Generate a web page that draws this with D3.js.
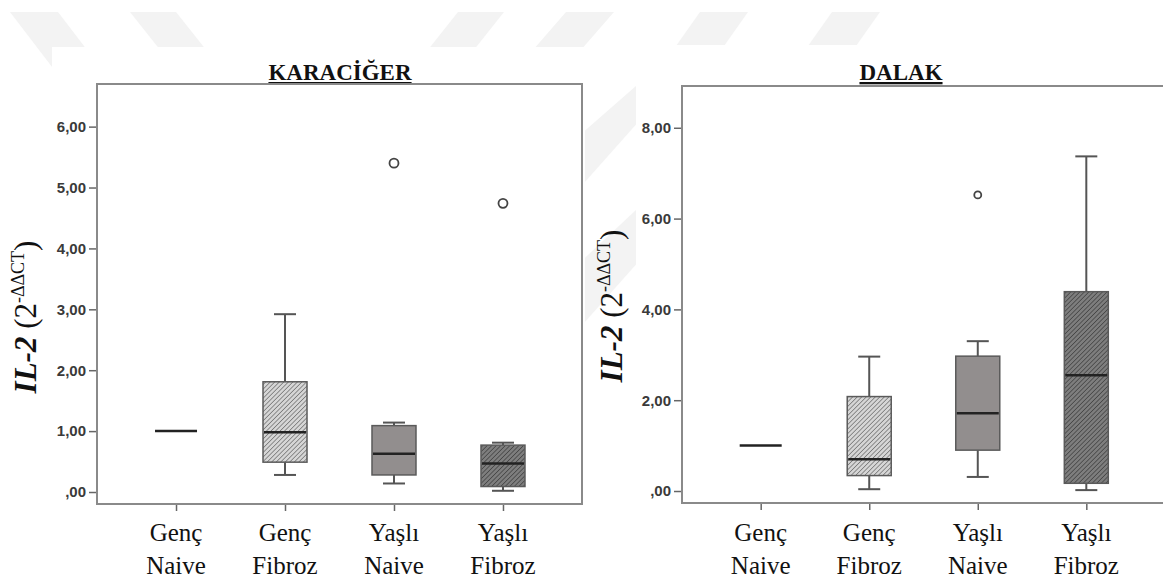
<!DOCTYPE html>
<html>
<head>
<meta charset="utf-8">
<script src="https://cdn.jsdelivr.net/npm/d3@7"></script>
<style>
  html, body { margin: 0; padding: 0; background: #fff; }
  svg { display: block; }
</style>
</head>
<body>
<div id="chart"></div>
<script>
const width = 1163;
const height = 582;

// gruplar
const groups = ["Genç Naive", "Genç Fibroz", "Yaşlı Naive", "Yaşlı Fibroz"];

// KARACİĞER
const liverLow = [1.00, 0.28, 0.14, 0.02];
const liverQ1 = [1.00, 0.49, 0.28, 0.09];
const liverMedian = [1.00, 0.98, 0.63, 0.47];
const liverQ3 = [1.00, 1.81, 1.09, 0.77];
const liverHigh = [1.00, 2.92, 1.14, 0.81];
const liverOutliers = [[], [], [5.40], [4.74]];
const liverTicks = [0, 1, 2, 3, 4, 5, 6];

// DALAK
const spleenLow = [1.00, 0.04, 0.31, 0.02];
const spleenQ1 = [1.00, 0.34, 0.90, 0.17];
const spleenMedian = [1.00, 0.70, 1.71, 2.55];
const spleenQ3 = [1.00, 2.08, 2.97, 4.39];
const spleenHigh = [1.00, 2.96, 3.30, 7.37];
const spleenOutliers = [[], [], [6.52], []];
const spleenTicks = [0, 2, 4, 6, 8];

const fills = ["none", "url(#hatchLight)", "#928e8e", "url(#hatchDark)"];

const svg = d3.select("#chart").append("svg")
    .attr("width", width)
    .attr("height", height);

const defs = svg.append("defs");

function hatch(id, bg, fg) {
    const p = defs.append("pattern")
        .attr("id", id)
        .attr("patternUnits", "userSpaceOnUse")
        .attr("width", 3.2)
        .attr("height", 3.2)
        .attr("patternTransform", "rotate(45)");
    p.append("rect").attr("width", 3.2).attr("height", 3.2).attr("fill", bg);
    p.append("line")
        .attr("x1", 0).attr("y1", 0).attr("x2", 0).attr("y2", 3.2)
        .attr("stroke", fg).attr("stroke-width", 1.6);
}
hatch("hatchLight", "#d6d6d6", "#7a7a7a");
hatch("hatchDark", "#7e7e7e", "#474747");

// filigran (arka plan)
const wm = svg.append("g").attr("fill", "#f3f3f3");
const wmShapes = [
    [[10, 12], [58, 12], [110, 80], [62, 80]],
    [[130, 12], [176, 12], [230, 80], [184, 80]],
    [[458, 12], [504, 12], [450, 80], [404, 80]],
    [[566, 12], [614, 12], [520, 120], [472, 120]],
    [[700, 12], [748, 12], [700, 80], [652, 80]],
    [[832, 12], [880, 12], [832, 80], [784, 80]],
    [[700, 30], [720, 30], [560, 210], [540, 170]],
    [[700, 150], [720, 170], [560, 350], [540, 300]]
];
wmShapes.forEach(s => wm.append("polygon").attr("points", s.map(p => p.join(",")).join(" ")));

svg.append("rect").attr("x", 52).attr("y", 47).attr("width", 533).attr("height", height - 47).attr("fill", "#fff");
svg.append("rect").attr("x", 636).attr("y", 45).attr("width", width - 636).attr("height", height - 45).attr("fill", "#fff");

const fmt = v => {
    const s = d3.format(".2f")(v).replace(".", ",");
    return v === 0 ? s.slice(1) : s;
};

function drawPanel(opt) {
    const g = svg.append("g");
    const x = d3.scalePoint().domain(groups).range([opt.left, opt.right]).padding(0.725);
    const y = d3.scaleLinear().domain(opt.domain).range([opt.bottom, opt.top]);
    const boxW = 44;

    // baslik
    g.append("text")
        .attr("x", opt.titleX)
        .attr("y", 80)
        .attr("text-anchor", "middle")
        .style("font-family", "'Liberation Serif', 'Times New Roman', serif")
        .style("font-weight", "bold")
        .style("font-size", "23px")
        .style("text-decoration", "underline")
        .attr("fill", "#111")
        .text(opt.title);

    // y ekseni
    const yAxis = d3.axisLeft(y).tickValues(opt.ticks).tickFormat(fmt).tickSize(8).tickSizeOuter(0);
    const ya = g.append("g").attr("transform", `translate(${opt.left},0)`).call(yAxis);
    ya.select(".domain").remove();
    ya.selectAll(".tick line").attr("stroke", "#666").attr("stroke-width", 1.5);
    ya.selectAll(".tick text")
        .attr("x", -11)
        .style("font-family", "'Liberation Sans', Arial, sans-serif")
        .style("font-size", "15px")
        .style("font-weight", "bold")
        .attr("fill", "#3a3a3a");

    // x ekseni
    const xAxis = d3.axisBottom(x).tickSize(7).tickSizeOuter(0).tickFormat("");
    const xa = g.append("g").attr("transform", `translate(0,${opt.bottom})`).call(xAxis);
    xa.select(".domain").remove();
    xa.selectAll(".tick line").attr("stroke", "#666").attr("stroke-width", 1.5);

    groups.forEach(gr => {
        const parts = gr.split(" ");
        const t = g.append("text")
            .attr("x", x(gr))
            .attr("y", 541)
            .attr("text-anchor", "middle")
            .style("font-family", "'Liberation Serif', 'Times New Roman', serif")
            .style("font-size", "25px")
            .attr("fill", "#111");
        t.append("tspan").attr("x", x(gr)).text(parts[0]);
        t.append("tspan").attr("x", x(gr)).attr("dy", 33).text(parts[1]);
    });

    // cerceve
    g.append("path")
        .attr("d", `M${opt.left},${opt.bottom} V${opt.top} H${opt.right} V${opt.bottom} Z`)
        .attr("fill", "none")
        .attr("stroke", "#8a8a8a")
        .attr("stroke-width", 2);

    // kutular
    groups.forEach((gr, i) => {
        const cx = x(gr);
        const lo = opt.low[i], q1 = opt.q1[i], md = opt.median[i], q3 = opt.q3[i], hi = opt.high[i];
        const bg = g.append("g");
        if (q3 > q1) {
            bg.append("line").attr("x1", cx).attr("x2", cx).attr("y1", y(hi)).attr("y2", y(q3))
                .attr("stroke", "#555").attr("stroke-width", 2);
            bg.append("line").attr("x1", cx).attr("x2", cx).attr("y1", y(q1)).attr("y2", y(lo))
                .attr("stroke", "#555").attr("stroke-width", 2);
            bg.append("line").attr("x1", cx - boxW / 4).attr("x2", cx + boxW / 4).attr("y1", y(hi)).attr("y2", y(hi))
                .attr("stroke", "#555").attr("stroke-width", 2);
            bg.append("line").attr("x1", cx - boxW / 4).attr("x2", cx + boxW / 4).attr("y1", y(lo)).attr("y2", y(lo))
                .attr("stroke", "#555").attr("stroke-width", 2);
            bg.append("rect")
                .attr("x", cx - boxW / 2)
                .attr("y", y(q3))
                .attr("width", boxW)
                .attr("height", y(q1) - y(q3))
                .attr("fill", fills[i])
                .attr("stroke", "#5a5a5a")
                .attr("stroke-width", 1.5);
        }
        bg.append("line").attr("x1", cx - boxW / 2 + 1).attr("x2", cx + boxW / 2 - 1).attr("y1", y(md)).attr("y2", y(md))
            .attr("stroke", "#222").attr("stroke-width", 2.5);

        opt.outliers[i].forEach(v => {
            bg.append("circle")
                .attr("cx", cx)
                .attr("cy", y(v))
                .attr("r", opt.outR)
                .attr("fill", "#fff")
                .attr("stroke", "#444")
                .attr("stroke-width", 1.8);
        });
    });

    // y etiketi
    const yl = g.append("text")
        .attr("transform", `translate(${opt.labelX},${opt.labelY}) rotate(-90)`)
        .attr("text-anchor", "middle")
        .style("font-family", "'Liberation Serif', 'Times New Roman', serif")
        .style("font-size", "31px")
        .attr("fill", "#111");
    yl.append("tspan").style("font-weight", "bold").style("font-style", "italic").text("IL-2");
    yl.append("tspan").text(" (2");
    yl.append("tspan").attr("dy", -12).style("font-size", "18px").text("-ΔΔCT");
    yl.append("tspan").attr("dy", 12).text(")");
}

drawPanel({
    title: "KARACİĞER", titleX: 340,
    left: 97, right: 582, top: 84, bottom: 504,
    domain: [-0.197, 6.70], ticks: liverTicks,
    low: liverLow, q1: liverQ1, median: liverMedian, q3: liverQ3, high: liverHigh,
    outliers: liverOutliers, outR: 4.5,
    labelX: 36, labelY: 317
});

drawPanel({
    title: "DALAK", titleX: 901,
    left: 682, right: 1165, top: 86, bottom: 503,
    domain: [-0.264, 8.92], ticks: spleenTicks,
    low: spleenLow, q1: spleenQ1, median: spleenMedian, q3: spleenQ3, high: spleenHigh,
    outliers: spleenOutliers, outR: 3.5,
    labelX: 622, labelY: 306
});
</script>
</body>
</html>
